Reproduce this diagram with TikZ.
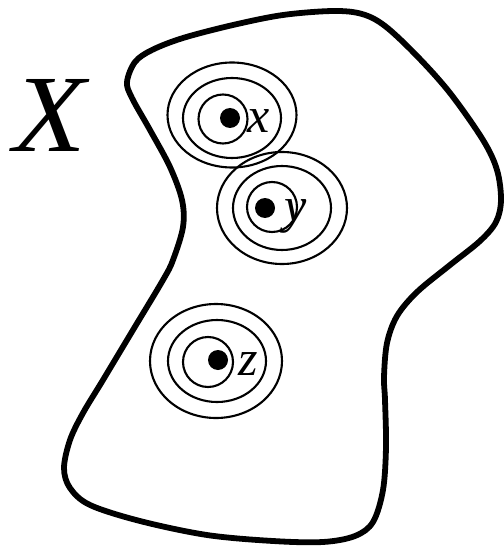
\documentclass[tikz,border=0pt]{standalone}
\usepackage{fontspec}
\setmainfont{Liberation Serif}
\begin{document}
\begin{tikzpicture}[x=1pt,y=-1pt,
  blob/.style={line width=5.8pt, line join=round},
  ring/.style={line width=2.1pt},
  dotpt/.style={circle, fill=black, inner sep=0pt, minimum size=20pt},
  lbl/.style={font=\fontsize{50}{50}\selectfont\itshape, inner sep=0pt, anchor=base},
  biglbl/.style={font=\fontsize{110}{110}\selectfont\itshape, inner sep=0pt, anchor=base, xscale=1.08}]
\useasboundingbox (0,0) rectangle (503,548);
% outline of X
\draw[blob] plot[smooth cycle, tension=0.55] coordinates {
 (127,82) (135,62) (152,50) (183,38) (233,25) (283,15) (333,11) (362,14)
 (385,26) (417,56) (450,93) (483,140) (497,170) (501,200) (496,222)
 (480,241) (450,265) (417,292) (397,316) (387,343) (384,377) (385,400)
 (386,447) (383,490) (373,522) (355,536) (323,542) (273,541) (207,535)
 (140,521) (90,505) (70,488) (64,468) (70,440) (83,413) (103,380)
 (133,330) (163,280) (173,260) (183,227) (182,200) (170,167) (150,130)
 (132,98)};
\node[biglbl] (lX) at (50,152) {X};
% point x
\draw[ring] (232,115) ellipse [x radius=64.5pt, y radius=52.5pt];
\draw[ring] (232,118) ellipse [x radius=49pt, y radius=40pt];
\draw[ring] (223,119) circle [radius=24.5pt];
\node[dotpt] (dx) at (230,118) {};
\node[lbl] (lx) at (259,133) {x};
% point y
\draw[ring] (282,208) ellipse [x radius=65pt, y radius=56pt];
\draw[ring] (282,208) ellipse [x radius=49pt, y radius=42pt];
\draw[ring] (272,207) circle [radius=25pt];
\node[dotpt] (dy) at (265,208) {};
\node[lbl] (ly) at (296,222) {y};
% point z
\draw[ring] (216,361) ellipse [x radius=66pt, y radius=57pt];
\draw[ring] (217,361) ellipse [x radius=49pt, y radius=41pt];
\draw[ring] (208,362) circle [radius=25pt];
\node[dotpt] (dz) at (218,360) {};
\node[lbl] (lz) at (248,375) {z};
\end{tikzpicture}
\end{document}
